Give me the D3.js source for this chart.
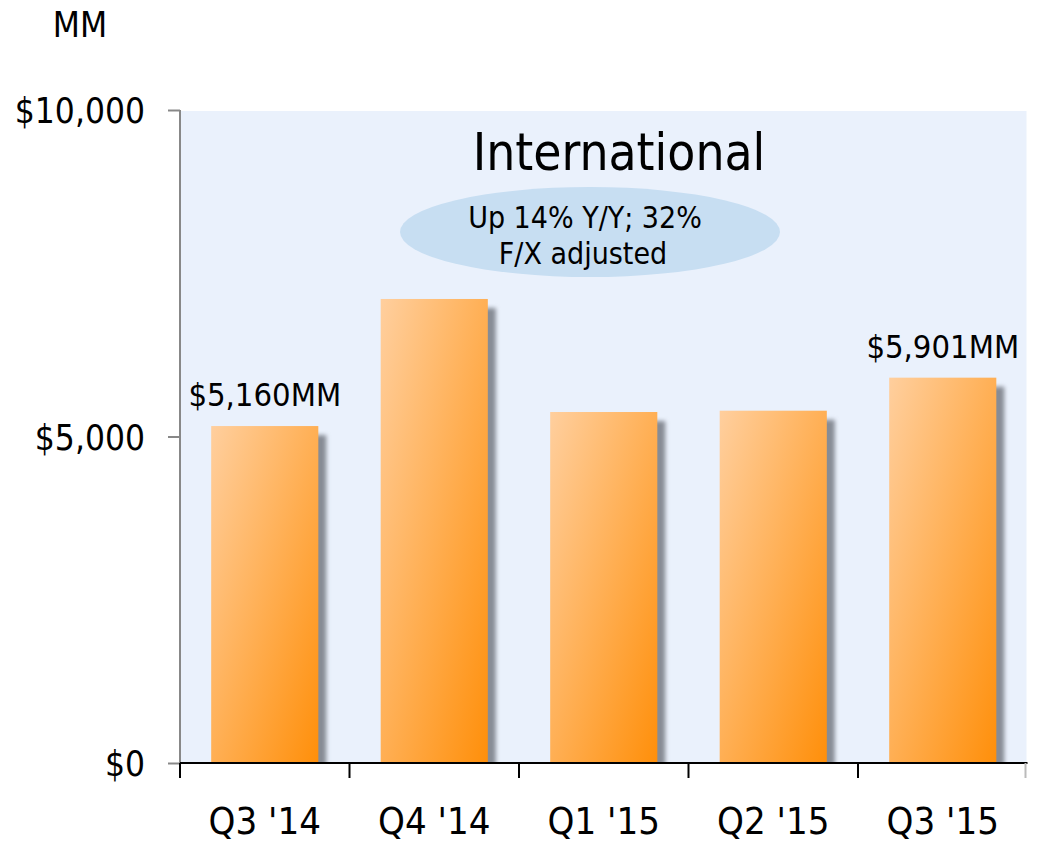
<!DOCTYPE html>
<html>
<head>
  <meta charset="utf-8">
  <script src="https://cdnjs.cloudflare.com/ajax/libs/d3/7.8.5/d3.min.js"></script>
  <title>International</title>
  <style>
    body { margin: 0; background: #fff; }
    text { font-family: Tahoma, "DejaVu Sans Condensed", "DejaVu Sans", sans-serif; fill: #000; }
  </style>
</head>
<body>
<script>
// data
var quarters = ["Q3 '14", "Q4 '14", "Q1 '15", "Q2 '15", "Q3 '15"];
var sales = [5160, 7106, 5375, 5395, 5901];
var yTicks = [0, 5000, 10000];
var barLabels = {0: "$5,160MM", 4: "$5,901MM"};
var title = "International";
var note = ["Up 14% Y/Y; 32%", "F/X adjusted"];

var W = 1038, H = 845;
var margin = {top: 110, right: 10, bottom: 82, left: 180};

var svg = d3.select("body").append("svg")
    .attr("width", W)
    .attr("height", H);

var defs = svg.append("defs");
var grad = defs.append("linearGradient")
    .attr("id", "barGrad")
    .attr("x1", 0).attr("y1", 0).attr("x2", 1).attr("y2", 1);
grad.append("stop").attr("offset", "0%").attr("stop-color", "#ffcf9e");
grad.append("stop").attr("offset", "100%").attr("stop-color", "#ff8f0a");

defs.append("filter").attr("id", "blur")
    .attr("x", "-20%").attr("y", "-20%").attr("width", "140%").attr("height", "140%")
  .append("feGaussianBlur").attr("stdDeviation", 2);

var x = d3.scaleBand()
    .domain(quarters)
    .range([margin.left, 1027.5])
    .padding(0);

var y = d3.scaleLinear()
    .domain([0, 10000])
    .range([763, margin.top]);

var barW = x.bandwidth() * 0.632;

defs.append("clipPath").attr("id", "plotClip")
  .append("rect")
    .attr("x", x.range()[0]).attr("y", y(10000))
    .attr("width", x.range()[1] - x.range()[0])
    .attr("height", y(0) - y(10000));

// plot background
svg.append("rect")
    .attr("x", x.range()[0])
    .attr("y", y(10000) + 1)
    .attr("width", x.range()[1] - x.range()[0] - 1)
    .attr("height", y(0) - y(10000) - 1)
    .attr("fill", "#eaf1fc");

// title + ellipse note
svg.append("text")
    .attr("x", 619).attr("y", 170)
    .attr("text-anchor", "middle")
    .style("font-size", "51px")
    .text(title);

svg.append("ellipse")
    .attr("cx", 590).attr("cy", 232)
    .attr("rx", 190).attr("ry", 45)
    .attr("fill", "#c7def2");

svg.append("text")
    .attr("x", 585).attr("y", 228)
    .attr("text-anchor", "middle")
    .style("font-size", "30px")
    .text(note[0]);
svg.append("text")
    .attr("x", 583).attr("y", 264)
    .attr("text-anchor", "middle")
    .style("font-size", "30px")
    .text(note[1]);

// shadows
svg.append("g")
    .attr("clip-path", "url(#plotClip)")
  .selectAll("rect")
  .data(sales)
  .enter().append("rect")
    .attr("x", function(d, i) { return x(quarters[i]) + (x.bandwidth() - barW) / 2 + 8; })
    .attr("y", function(d) { return y(d) + 9; })
    .attr("width", barW)
    .attr("height", function(d) { return y(0) - y(d); })
    .attr("fill", "#878c95")
    .attr("filter", "url(#blur)");

// bars
svg.append("g").selectAll("rect")
  .data(sales)
  .enter().append("rect")
    .attr("x", function(d, i) { return x(quarters[i]) + (x.bandwidth() - barW) / 2; })
    .attr("y", function(d) { return y(d); })
    .attr("width", barW)
    .attr("height", function(d) { return y(0) - y(d); })
    .attr("fill", "url(#barGrad)");

// value labels
svg.append("g").selectAll("text")
  .data(sales.map(function(d, i) { return {v: d, i: i}; }).filter(function(d) { return barLabels[d.i]; }))
  .enter().append("text")
    .attr("x", function(d) { return x(quarters[d.i]) + x.bandwidth() / 2; })
    .attr("y", function(d) { return y(d.v) - 20; })
    .attr("text-anchor", "middle")
    .style("font-size", "32.5px")
    .text(function(d) { return barLabels[d.i]; });

// y axis
var yAxis = d3.axisLeft(y)
    .tickValues(yTicks)
    .tickSize(12)
    .tickPadding(23)
    .tickFormat(function(d) { return "$" + d3.format(",")(d); });

var gy = svg.append("g")
    .attr("transform", "translate(" + margin.left + ",0)")
    .call(yAxis);
gy.select(".domain").attr("stroke", "#888").attr("stroke-width", 2)
    .attr("d", "M0," + y(10000) + "V" + y(0));
gy.selectAll(".tick line").attr("stroke", "#888").attr("stroke-width", 2);
gy.selectAll(".tick text")
    .attr("fill", "#000")
    .style("font-size", "35px")
    .attr("dy", "0.36em");

// x axis
var xAxis = d3.axisBottom(x)
    .tickSize(0)
    .tickPadding(44);

var gx = svg.append("g")
    .attr("transform", "translate(0," + y(0) + ")")
    .call(xAxis);
gx.select(".domain").attr("stroke", "#000").attr("stroke-width", 2)
    .attr("d", "M" + x.range()[0] + ",0H" + x.range()[1]);
gx.selectAll(".tick text")
    .attr("fill", "#000")
    .style("font-size", "38px")
    .attr("dy", "0.71em");

// tick marks at band edges
var edges = quarters.map(function(q) { return x(q); }).concat([x.range()[1] - 2]);
gx.selectAll(".edge")
  .data(edges)
  .enter().append("line")
    .attr("class", "edge")
    .attr("x1", function(d) { return d; })
    .attr("x2", function(d) { return d; })
    .attr("y1", 0).attr("y2", 15)
    .attr("stroke", function(d, i) { return i === edges.length - 1 ? "#bbb" : "#000"; })
    .attr("stroke-width", 2);

// unit label
svg.append("text")
    .attr("x", 80).attr("y", 37)
    .attr("text-anchor", "middle")
    .style("font-size", "35px")
    .text("MM");
</script>
</body>
</html>
